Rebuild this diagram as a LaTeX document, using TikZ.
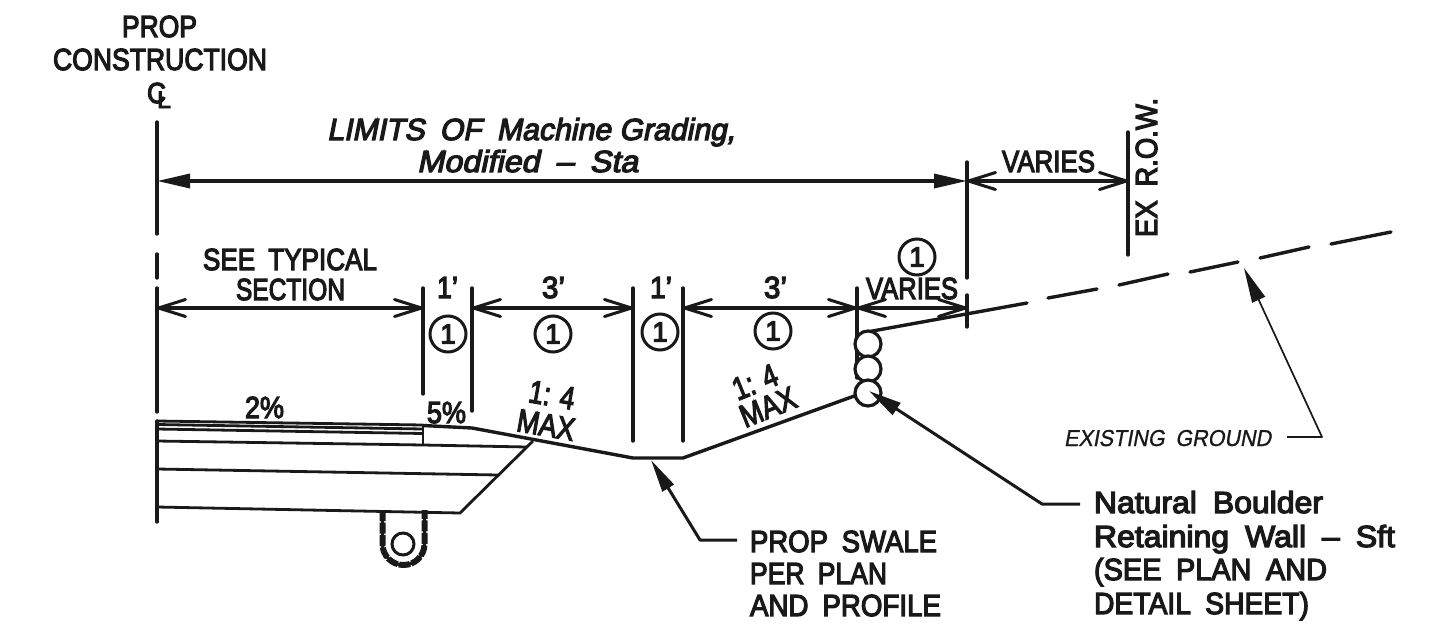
\documentclass[tikz,border=0pt]{standalone}
\usepackage{graphicx}
\usepackage{fontspec}
\usetikzlibrary{arrows.meta}
\setmainfont{Liberation Sans}[FakeBold=4]
\newfontfamily\cadit{Liberation Sans}[FakeBold=4,FakeSlant=0.2]
\newfontfamily\cadthin{Liberation Sans}[FakeBold=1,FakeSlant=0.2]
\newsavebox{\fitbox}
\newcommand\fw[2]{\sbox{\fitbox}{#2}\pgfmathsetmacro\fitr{#1/\the\wd\fitbox}\scalebox{\fitr}[1]{\usebox{\fitbox}}}
\newcommand\fs[1]{\fontsize{#1}{#1}\selectfont}
\newcommand\wsp{\hspace{0.5em}}
\tikzset{
  x=1pt,y=-1pt,
  line/.style={line width=3.4pt,line cap=round,line join=round,black!90},
  thinline/.style={line width=1.7pt,line join=round,black!90},
  dimo/.style={line,{Straight Barb[length=27pt,width=17pt,line width=3pt,round]}-{Straight Barb[length=27pt,width=17pt,line width=3pt,round]}},
  dimf/.style={line,{Triangle[length=33pt,width=14pt]}-{Triangle[length=33pt,width=14pt]}},
  lab/.style={anchor=base west,inner sep=0pt,outer sep=0pt,text=black!90,font=\fs{30.5}},
  ilab/.style={lab,font=\fs{30.5}\cadit},
  rlab/.style={anchor=center,inner sep=0pt,outer sep=0pt,text=black!90,font=\fs{32}},
  num/.style={circle,draw=black!90,line width=3pt,minimum size=36pt,inner sep=0pt,text=black!90,font=\fs{28}},
  stone/.style={circle,draw=black!90,line width=3.2pt,fill=white,minimum size=26pt,inner sep=0pt},
}
\begin{document}
\begin{tikzpicture}
\useasboundingbox (0,0) rectangle (1435,635);
% reference points
\coordinate (cl) at (157,181);
\coordinate (ca) at (157,308);
\coordinate (t1) at (423,308);
\coordinate (t2) at (472,308);
\coordinate (t3) at (633,308);
\coordinate (t4) at (683,308);
\coordinate (t5) at (857,308);
\coordinate (t6) at (967,308);
\coordinate (u6) at (967,181);
\coordinate (u7) at (1128,181);
% centre line
\draw[line] (157,122) -- (157,234);
\draw[line] (157,254) -- (157,278);
\draw[line] (157,288) -- (157,412);
\draw[line] (157,421) -- (157,522);
% ticks
\draw[line] (423,288) -- (423,394);
\draw[line] (472,288) -- (472,411);
\draw[line] (633,288) -- (633,441);
\draw[line] (683,288) -- (683,441);
\draw[line] (857,288) -- (857,378);
\draw[line] (967,162) -- (967,278);
\draw[line] (967,295) -- (967,327);
\draw[line] (1128,132) -- (1128,255);
% dimensions
\draw[dimf] (cl) -- (u6);
\draw[dimo] (u6) -- (u7);
\draw[dimo] (ca) -- (t1);
\draw[dimo] (t2) -- (t3);
\draw[dimo] (t4) -- (t5);
\draw[dimo] (t5) -- (t6);
% pavement
\draw[line width=2.8pt,black!90] (157,421) -- (423,425);
\draw[line width=2.8pt,black!90] (157,424.5) -- (423,429);
\draw[line width=2.8pt,black!90] (157,429) -- (423,433.5);
\draw[line width=2.8pt,black!90] (157,441) -- (423,445) -- (527,447);
\draw[line width=2.8pt,black!90] (423,425) -- (423,445);
\draw[line width=2.8pt,black!90] (157,469) -- (498,475);
\draw[line width=2.8pt,black!90] (157,507) -- (460,513) -- (533,441);
% ground
\draw[line] (423,425.5) -- (472,428) -- (633,458) -- (683,458) -- (857,395);
% boulders & ground line
\draw[line] (867,332) -- (1027,303);
\draw[line] (1048,298) -- (1097,289);
\draw[line] (1119,285) -- (1168,274);
\draw[line] (1190,272) -- (1238,262);
\draw[line] (1260,258) -- (1309,247);
\draw[line] (1331,244) -- (1391,232);
\node[stone] (b1) at (868,344) {};
\node[stone] (b2) at (868,369) {};
\node[stone] (b3) at (868,393) {};
% underdrain
\draw[line width=3.2pt,black!90] (382.5,510) -- (382.5,544) arc[start angle=180,end angle=0,radius=21] -- (424.5,510);
\draw[line width=6pt,black!90,dash pattern=on 11pt off 1.5pt] (382.5,510) -- (382.5,544) arc[start angle=180,end angle=0,radius=21] -- (424.5,510);
\node[circle,draw=black!90,line width=3pt,minimum size=22pt,inner sep=0pt] (drain) at (403,544) {};
% leaders
\coordinate (s1) at (651,460);
\coordinate (s2) at (700,540);
\coordinate (s3) at (737,540);
\draw[line width=3pt,black!90,line join=round,{Triangle[length=33pt,width=13pt]}-] (s1) -- (s2) -- (s3);
\coordinate (r1) at (869,391);
\coordinate (r2) at (1042,504);
\coordinate (r3) at (1080,504);
\draw[line width=3pt,black!90,line join=round,{Triangle[length=33pt,width=14pt]}-] (r1) -- (r2) -- (r3);
\coordinate (e1) at (1244,268);
\coordinate (e2) at (1322,437);
\coordinate (e3) at (1287,437);
\draw[thinline,{Triangle[length=35pt,width=14pt]}-] (e1) -- (e2) -- (e3);
% circled numbers
\node[num] (n1) at (448,334) {1};
\node[num] (n2) at (553,334) {1};
\node[num] (n3) at (660,332) {1};
\node[num] (n4) at (773,331) {1};
\node[num] (n5) at (917,257) {1};
% labels
\node[lab] (prop) at (122,37) {\fw{75pt}{PROP}};
\node[lab] (cons) at (53,70) {\fw{214pt}{CONSTRUCTION}};
\node[lab,font=\fs{29}] (clc) at (147,103) {\fw{19pt}{C}};
\node[lab,font=\fs{24}] (cll) at (157,108) {\fw{14pt}{L}};
\node[ilab] (lim) at (327,140) {\fw{408pt}{LIMITS\wsp OF\wsp Machine Grading,}};
\node[ilab] (mod) at (417,172) {\fw{221pt}{Modified\wsp –\wsp Sta}};
\node[lab] (var1) at (1002,172) {\fw{93pt}{VARIES}};
\node[lab,rotate=90] (row) at (1157,237) {\fw{139pt}{EX\wsp R.O.W.}};
\node[lab] (see) at (203,270) {\fw{174pt}{SEE\wsp TYPICAL}};
\node[lab] (sec) at (236,300) {\fw{109pt}{SECTION}};
\node[lab] (o1) at (437,298) {\fw{21pt}{1'}};
\node[lab] (o2) at (542,298) {\fw{23pt}{3'}};
\node[lab] (o3) at (650,298) {\fw{22pt}{1'}};
\node[lab] (o4) at (764,298) {\fw{23pt}{3'}};
\node[lab] (var2) at (866,299) {\fw{92pt}{VARIES}};
\node[lab] (pc2) at (245,418) {\fw{39pt}{2\%}};
\node[lab] (pc5) at (427,423) {\fw{39pt}{5\%}};
\node[rlab,rotate=-10] (sl1) at (552,395) {\fw{46pt}{1: 4}};
\node[rlab,rotate=-10] (mx1) at (546,425) {\fw{58pt}{MAX}};
\node[rlab,rotate=22] (sl2) at (755,382) {\fw{46pt}{1: 4}};
\node[rlab,rotate=22] (mx2) at (768,407) {\fw{58pt}{MAX}};
\node[lab,font=\fs{23}\cadthin] (eg) at (1064,446) {\fw{207pt}{EXISTING\wsp GROUND}};
\node[lab] (sw1) at (750,552) {\fw{187pt}{PROP\wsp SWALE}};
\node[lab] (sw2) at (750,584) {\fw{137pt}{PER\wsp PLAN}};
\node[lab] (sw3) at (750,616) {\fw{191pt}{AND\wsp PROFILE}};
\node[lab] (nb1) at (1094,513) {\fw{229pt}{Natural\wsp Boulder}};
\node[lab] (nb2) at (1094,547) {\fw{301pt}{Retaining\wsp Wall\wsp –\wsp Sft}};
\node[lab] (nb3) at (1094,580) {\fw{233pt}{(SEE\wsp PLAN\wsp AND}};
\node[lab] (nb4) at (1094,614) {\fw{215pt}{DETAIL\wsp SHEET)}};
\end{tikzpicture}
\end{document}
